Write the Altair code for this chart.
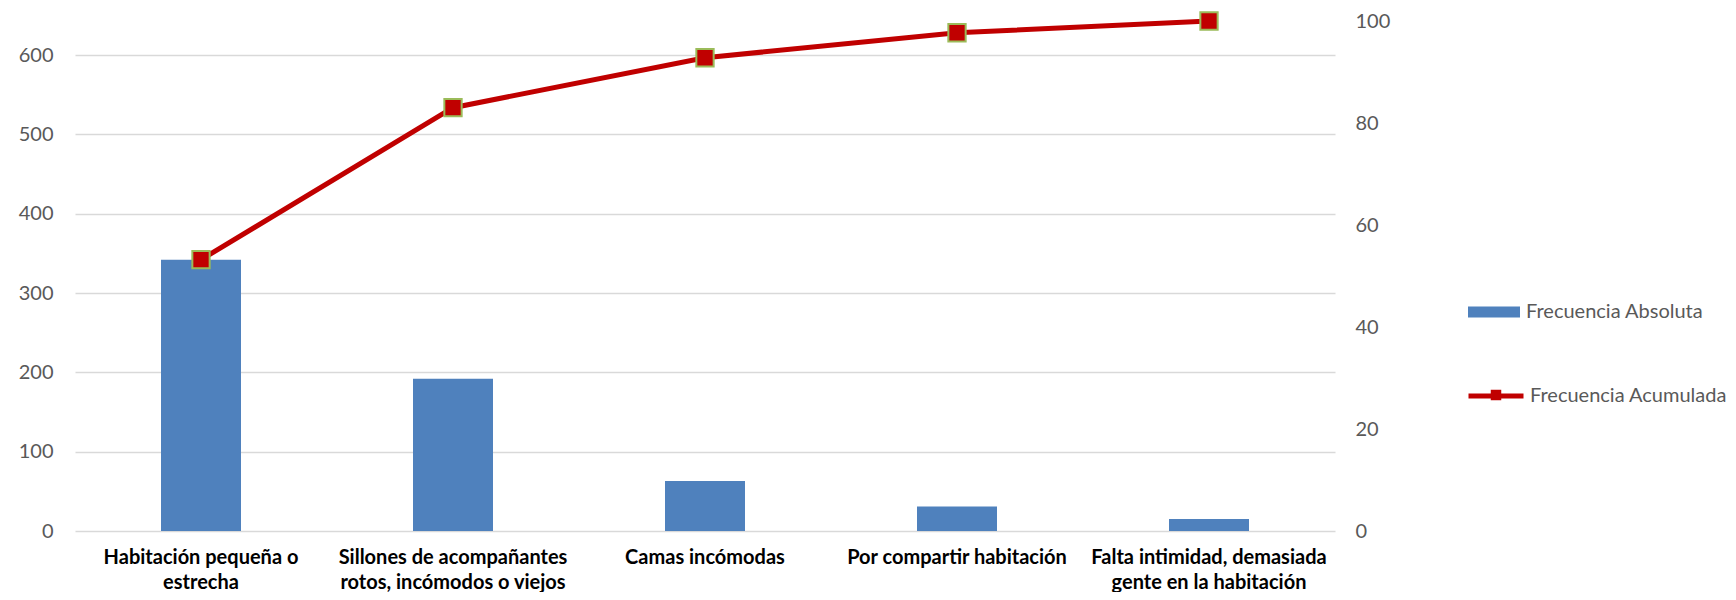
import altair as alt
import pandas as pd

categories = [
    "Habitación pequeña o\nestrecha",
    "Sillones de acompañantes\nrotos, incómodos o viejos",
    "Camas incómodas",
    "Por compartir habitación",
    "Falta intimidad, demasiada\ngente en la habitación",
]
frecuencia_absoluta = [342, 192, 63, 31, 15]
frecuencia_acumulada = [53.2, 83.0, 92.8, 97.7, 100.0]
left_ticks = [0, 100, 200, 300, 400, 500, 600]
right_ticks = [0, 20, 40, 60, 80, 100]
left_max = 643

df = pd.DataFrame({
    "cat": categories,
    "abs": frecuencia_absoluta,
    "acum": frecuencia_acumulada,
    "s_abs": "Frecuencia Absoluta",
    "s_acum": "Frecuencia Acumulada",
})

FONT = "Lato"
GRAY = "#595959"

x = alt.X("cat:N", sort=categories, title=None,
          scale=alt.Scale(paddingInner=0, paddingOuter=0),
          axis=alt.Axis(labelExpr="split(datum.label, '\\n')", labelAngle=0,
                        labelFont=FONT, labelFontSize=20, labelFontWeight="bold",
                        labelColor="#000000", labelLineHeight=25, labelPadding=16,
                        ticks=False, domain=False, grid=False, labelLimit=400))

bars = alt.Chart(df).mark_bar(size=80, color="#4f81bd").encode(
    x=x,
    y=alt.Y("abs:Q", title=None, scale=alt.Scale(domain=[0, left_max], nice=False),
            axis=alt.Axis(values=left_ticks, grid=True, gridColor="#d9d9d9", gridWidth=1.5,
                          domain=False, ticks=False, labelFont=FONT, labelFontSize=20,
                          labelColor=GRAY, labelPadding=22)),
    fill=alt.Fill("s_abs:N", scale=alt.Scale(range=["#4f81bd"]),
                  legend=alt.Legend(title=None, orient="none", legendX=1393, legendY=265,
                                    symbolType="M-1,-0.21H1V0.21H-1Z", symbolSize=2704,
                                    symbolStrokeWidth=0, labelFont=FONT, labelFontSize=20,
                                    labelColor=GRAY, labelOffset=6, padding=0,
                                    labelLimit=400)),
)

line = alt.Chart(df).mark_line(color="#c00000", strokeWidth=5).encode(
    x=x,
    y=alt.Y("acum:Q", title=None, scale=alt.Scale(domain=[0, 100], nice=False),
            axis=alt.Axis(values=right_ticks, orient="right", grid=False, domain=False,
                          ticks=False, labelFont=FONT, labelFontSize=20, labelColor=GRAY,
                          labelPadding=20)),
    stroke=alt.Stroke("s_acum:N", scale=alt.Scale(range=["#c00000"]),
                      legend=alt.Legend(title=None, orient="none", legendX=1391, legendY=345,
                                        symbolType="stroke", symbolSize=3025,
                                        symbolStrokeWidth=5, labelFont=FONT, labelFontSize=20,
                                        labelColor=GRAY, labelOffset=4, padding=0,
                                        labelLimit=400)),
)

points = alt.Chart(df).mark_point(shape="square", filled=True, fill="#c00000",
                                  stroke="#9bbb59", strokeWidth=2, size=300, opacity=1).encode(
    x=x,
    y=alt.Y("acum:Q", scale=alt.Scale(domain=[0, 100], nice=False), axis=None),
    shape=alt.Shape("s_acum:N", scale=alt.Scale(range=["square"]),
                    legend=alt.Legend(title=None, orient="none", legendX=1411, legendY=364,
                                      symbolSize=110, symbolFillColor="#c00000",
                                      symbolStrokeColor="#9bbb59", symbolStrokeWidth=2,
                                      labelExpr="' '", labelFontSize=20, labelFont=FONT,
                                      padding=0)),
)

chart = alt.layer(bars, line, points).resolve_scale(
    y="independent", fill="independent", stroke="independent", shape="independent"
).properties(
    width=1260, height=510,
    padding={"left": 10, "top": 0, "right": 0, "bottom": 0},
).configure(background="white").configure_view(stroke=None)

chart.save("out.html", embed_options={"renderer": "svg", "actions": False})
